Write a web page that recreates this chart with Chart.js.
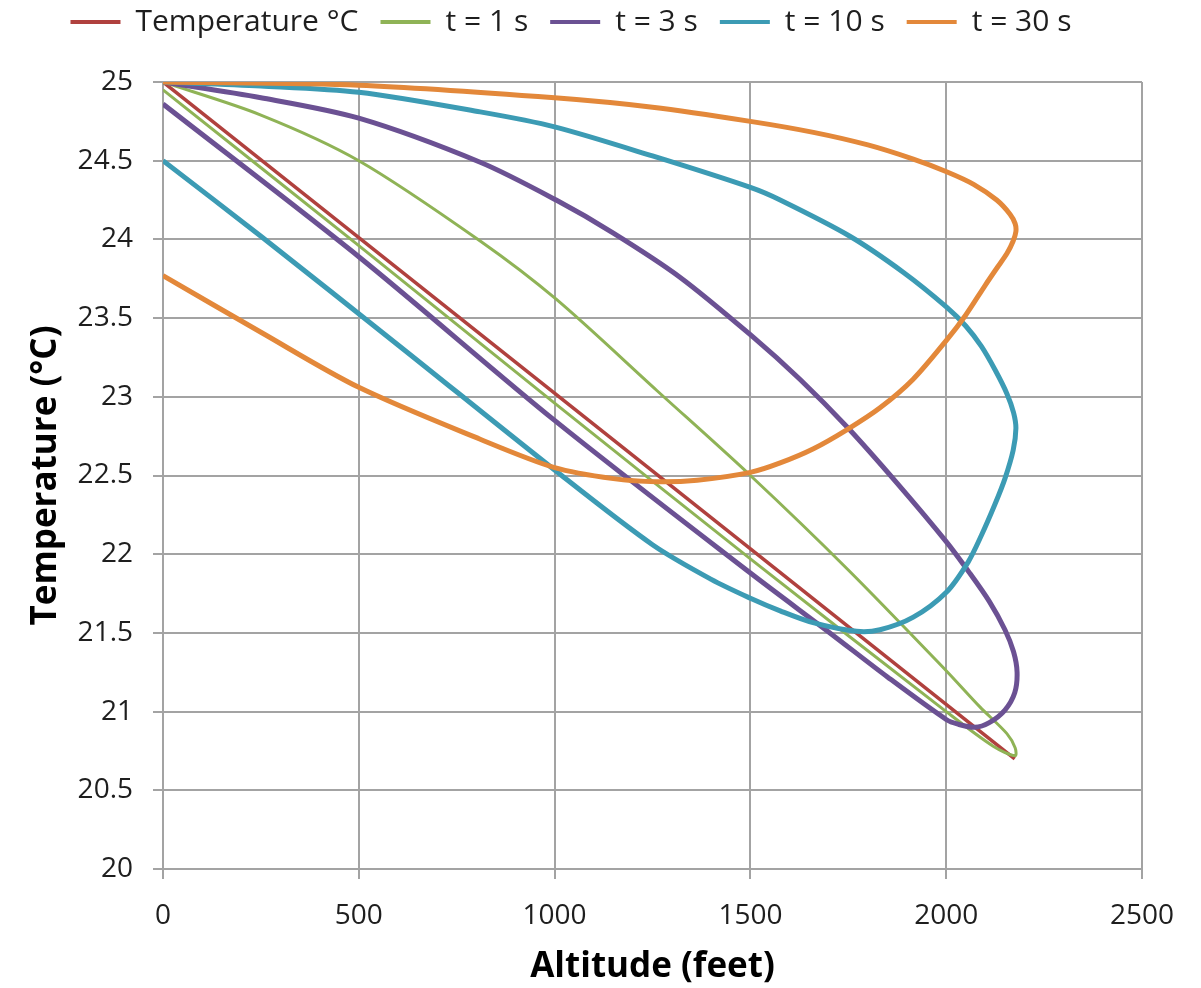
<!DOCTYPE html>
<html>
<head>
<meta charset="utf-8">
<title>Temperature vs altitude</title>
<script src="https://cdn.jsdelivr.net/npm/chart.js@4.4.1/dist/chart.umd.min.js"></script>
<style>
    html, body { margin: 0; padding: 0; background: #fff; }
    #wrap { width: 1201px; height: 988px; }
</style>
</head>
<body>
<div id="wrap"><canvas id="cnv-temp" width="1201" height="988"></canvas></div>
<script>
//--------------------------------------
// Data (altitude in feet, temperature in °C)
//--------------------------------------
var seriesLabels = ['Temperature °C', 't = 1 s', 't = 3 s', 't = 10 s', 't = 30 s'];

var tempAlt = [0, 2175, 0];
var tempVal = [25, 20.7, 25];

var t1Alt = [0, 250, 500, 810, 1004, 1261, 1500, 1750, 2000, 2086, 2155, 2176, 2176, 2120, 2000, 1500, 1000, 500, 0];
var t1Val = [25, 24.79, 24.5, 23.99, 23.62, 23.04, 22.5, 21.9, 21.26, 21.03, 20.86, 20.77, 20.72, 20.78, 21.0, 21.97, 22.96, 23.96, 24.95];

var t3Alt = [0, 250, 500, 810, 1004, 1150, 1320, 1502, 1627, 1750, 1875, 2000, 2060, 2110, 2150, 2172, 2181, 2175, 2150, 2110, 2073, 2030, 2000, 1850, 1703, 1500, 1000, 500, 0];
var t3Val = [25, 24.9, 24.77, 24.49, 24.25, 24.04, 23.76, 23.39, 23.11, 22.8, 22.45, 22.08, 21.88, 21.7, 21.52, 21.38, 21.25, 21.12, 21.01, 20.93, 20.9, 20.92, 20.95, 21.22, 21.5, 21.88, 22.85, 23.89, 24.86];

var t10Alt = [0, 250, 500, 810, 1000, 1250, 1500, 1576, 1754, 1891, 2001, 2050, 2090, 2125, 2155, 2172, 2178, 2171, 2150, 2125, 2090, 2056, 2001, 1916, 1831, 1771, 1660, 1576, 1500, 1400, 1250, 1000, 605, 250, 0];
var t10Val = [25, 24.975, 24.935, 24.81, 24.715, 24.53, 24.33, 24.25, 24.02, 23.79, 23.57, 23.45, 23.32, 23.17, 23.02, 22.9, 22.8, 22.66, 22.48, 22.32, 22.12, 21.95, 21.76, 21.6, 21.52, 21.51, 21.565, 21.64, 21.72, 21.84, 22.06, 22.535, 23.32, 24.02, 24.5];

var t30Alt = [0, 500, 1000, 1250, 1500, 1661, 1800, 1916, 2001, 2070, 2129, 2163, 2176, 2178, 2171, 2155, 2130, 2100, 2050, 2001, 1915, 1831, 1746, 1661, 1576, 1500, 1364, 1261, 1150, 1000, 810, 500, 250, 0];
var t30Val = [25, 24.98, 24.9, 24.84, 24.75, 24.68, 24.6, 24.51, 24.43, 24.35, 24.25, 24.16, 24.1, 24.05, 23.99, 23.91, 23.82, 23.71, 23.52, 23.36, 23.11, 22.93, 22.79, 22.67, 22.58, 22.52, 22.47, 22.46, 22.48, 22.55, 22.73, 23.06, 23.41, 23.77];

var seriesColors = ['#b0413e', '#8fb356', '#6b5193', '#3c9bb4', '#e3883a'];
var seriesWidths = [3.5, 3, 5, 5, 5];

var xTicks = { min: 0, max: 2500, step: 500 };
var yTicks = { min: 20, max: 25, step: 0.5 };

//--------------------------------------
// Helpers
//--------------------------------------
var toPoints = function(alts, vals){
    var pts = [];
    for (var i = 0; i < alts.length; i++) {
        pts.push({ x: alts[i], y: vals[i] });
    }
    return pts;
};

var makeDataset = function(idx, alts, vals, tension){
    return {
        label: seriesLabels[idx],
        data: toPoints(alts, vals),
        showLine: true,
        borderColor: seriesColors[idx],
        backgroundColor: seriesColors[idx],
        borderWidth: seriesWidths[idx],
        pointRadius: 0,
        tension: tension,
        order: 5 - idx
    };
};

// legend sits in the top 82px, independent of its label padding
var legendFit = {
    id: 'legendFit',
    afterInit: function(chart){
        var legend = chart.legend;
        var fit = legend.fit;
        legend.fit = function(){
            fit.call(this);
            this.height = 82;
        };
    }
};

var plainNumber = function(value){
    return String(value);
};

var gridColor = '#a3a3a3';
var textColor = '#1e1e1e';

var setChart = function(){
    var cnv = document.getElementById('cnv-temp');
    new Chart(cnv, {
        type: 'scatter',
        data: {
            datasets: [
                makeDataset(0, tempAlt, tempVal, 0),
                makeDataset(1, t1Alt, t1Val, 0.3),
                makeDataset(2, t3Alt, t3Val, 0.3),
                makeDataset(3, t10Alt, t10Val, 0.3),
                makeDataset(4, t30Alt, t30Val, 0.3)
            ]
        },
        plugins: [legendFit],
        options: {
            responsive: false,
            animation: false,
            layout: { padding: { left: 0, right: 59, top: 0, bottom: 0 } },
            plugins: {
                tooltip: { enabled: false },
                legend: {
                    position: 'top',
                    labels: {
                        boxWidth: 50,
                        boxHeight: 4,
                        padding: 7,
                        color: textColor,
                        font: { family: 'Open Sans', size: 30 },
                        generateLabels: function(chart){
                            var items = Chart.defaults.plugins.legend.labels.generateLabels(chart);
                            items.sort(function(a, b){ return a.datasetIndex - b.datasetIndex; });
                            items.forEach(function(it, i){
                                it.fillStyle = it.strokeStyle;
                                it.lineWidth = 0;
                                if (i < items.length - 1) it.text = it.text + '\u2002';
                            });
                            return items;
                        }
                    }
                }
            },
            scales: {
                x: {
                    type: 'linear',
                    min: xTicks.min,
                    max: xTicks.max,
                    afterFit: function(scale){ scale.height = 119; },
                    ticks: {
                        stepSize: xTicks.step,
                        padding: 20,
                        color: textColor,
                        maxRotation: 0,
                        callback: plainNumber,
                        font: { family: 'Open Sans', size: 28 }
                    },
                    grid: { color: gridColor, lineWidth: 2, tickLength: 10 },
                    border: { color: gridColor, width: 2 },
                    title: {
                        display: true,
                        text: 'Altitude (feet)',
                        color: '#000',
                        padding: { top: 0, bottom: 0 },
                        font: { family: 'Open Sans', size: 35, weight: 'bold' }
                    }
                },
                y: {
                    type: 'linear',
                    min: yTicks.min,
                    max: yTicks.max,
                    afterFit: function(scale){ scale.width = 163; },
                    ticks: {
                        stepSize: yTicks.step,
                        padding: 20,
                        color: textColor,
                        callback: plainNumber,
                        font: { family: 'Open Sans', size: 28 }
                    },
                    grid: { color: gridColor, lineWidth: 2, tickLength: 10 },
                    border: { color: gridColor, width: 2 },
                    title: {
                        display: true,
                        text: 'Temperature (°C)',
                        color: '#000',
                        padding: { top: 25, bottom: 0 },
                        font: { family: 'Open Sans', size: 35, weight: 'bold' }
                    }
                }
            }
        }
    });
};

setChart();
</script>
</body>
</html>
